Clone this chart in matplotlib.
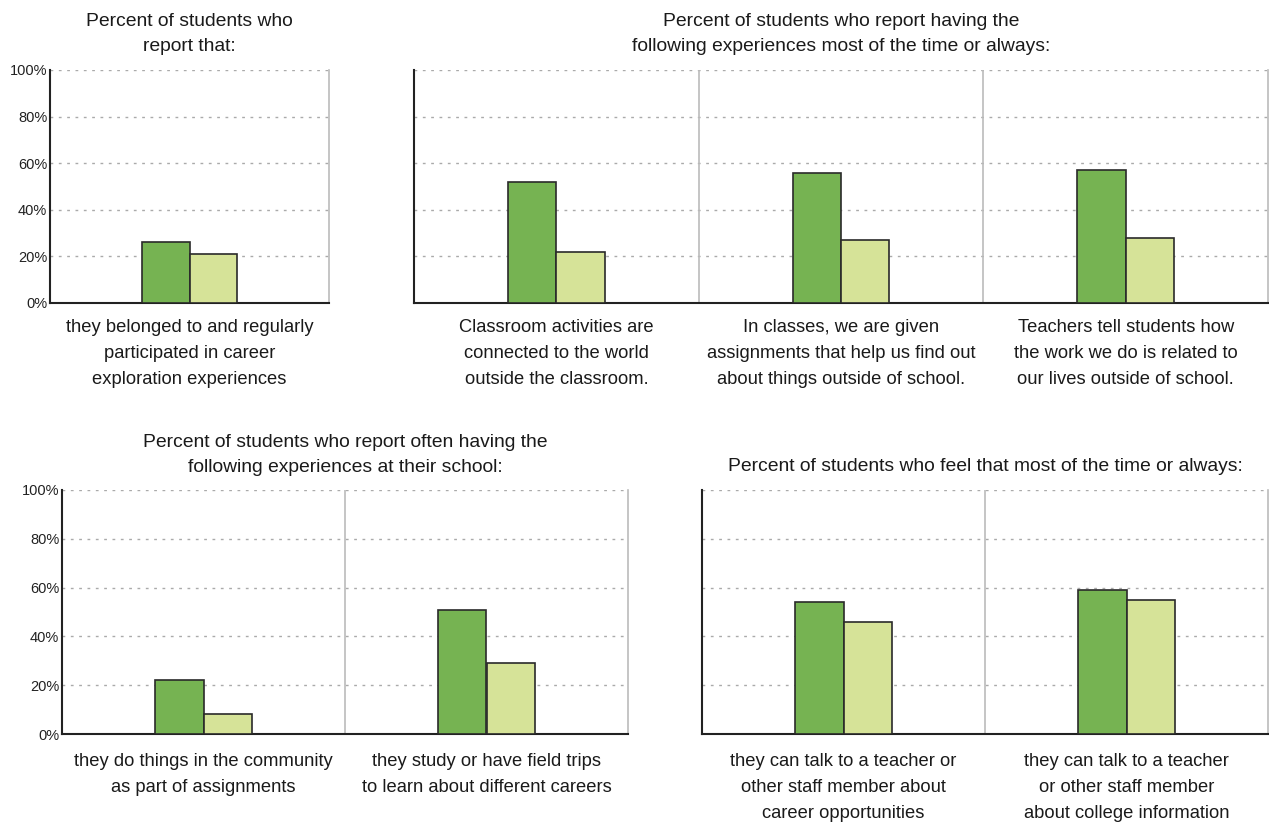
import matplotlib
matplotlib.use("Agg")
import matplotlib.pyplot as plt
from matplotlib.ticker import FuncFormatter

plt.rcParams['font.family'] = ['Liberation Sans', 'DejaVu Sans']

# panel data: green = school, light = comparison
tl_title = "Percent of students who\nreport that:"
tl_labels = ["they belonged to and regularly\nparticipated in career\nexploration experiences"]
tl_green = [26]
tl_light = [21]

tr_title = "Percent of students who report having the\nfollowing experiences most of the time or always:"
tr_labels = ["Classroom activities are\nconnected to the world\noutside the classroom.",
             "In classes, we are given\nassignments that help us find out\nabout things outside of school.",
             "Teachers tell students how\nthe work we do is related to\nour lives outside of school."]
tr_green = [52, 56, 57]
tr_light = [22, 27, 28]

bl_title = "Percent of students who report often having the\nfollowing experiences at their school:"
bl_labels = ["they do things in the community\nas part of assignments",
             "they study or have field trips\nto learn about different careers"]
bl_green = [22, 51]
bl_light = [8, 29]

br_title = "Percent of students who feel that most of the time or always:"
br_labels = ["they can talk to a teacher or\nother staff member about\ncareer opportunities",
             "they can talk to a teacher\nor other staff member\nabout college information"]
br_green = [54, 59]
br_light = [46, 55]

GREEN = "#76B352"
LIGHT = "#D6E398"
W, H = 1269, 825
FS = 13.2
TFS = 13.9

fig = plt.figure(figsize=(W / 100, H / 100), dpi=100)


def panel(x0, x1, ytop, ybot, title, labels, green, light, yticks, lpad, tpad):
    ax = fig.add_axes([x0 / W, 1 - ybot / H, (x1 - x0) / W, (ybot - ytop) / H])
    n = len(labels)
    pos = list(range(n))
    bw = 0.17
    ax.bar([p - bw / 2 for p in pos], green, bw, color=GREEN, edgecolor="#2a2a2a", linewidth=1.2, zorder=3)
    ax.bar([p + bw / 2 for p in pos], light, bw, color=LIGHT, edgecolor="#2a2a2a", linewidth=1.2, zorder=3)
    ax.set_xlim(-0.5, n - 0.5)
    ax.set_ylim(0, 100)
    ax.set_yticks([0, 20, 40, 60, 80, 100])
    ax.yaxis.grid(True, linestyle=(0, (2, 4)), color="#aaaaaa", linewidth=1)
    ax.set_axisbelow(True)
    for i in range(1, n):
        ax.axvline(i - 0.5, color="#bbbbbb", linewidth=1.2, zorder=2)
    ax.spines['top'].set_visible(False)
    ax.spines['right'].set_color("#bbbbbb")
    ax.spines['right'].set_linewidth(1.2)
    ax.spines['left'].set_color("#222222")
    ax.spines['bottom'].set_color("#222222")
    ax.spines['left'].set_linewidth(1.5)
    ax.spines['bottom'].set_linewidth(1.5)
    ax.set_xticks(pos)
    ax.set_xticklabels(labels, fontsize=FS, linespacing=1.68, va='top', color="#1a1a1a")
    ax.tick_params(axis='x', length=0, pad=lpad)
    ax.tick_params(axis='y', length=0, pad=2, labelsize=10.5, labelcolor="#222222")
    if yticks:
        ax.yaxis.set_major_formatter(FuncFormatter(lambda v, p: f"{int(v)}%"))
    else:
        ax.set_yticklabels([])
    ax.set_title(title, fontsize=TFS, linespacing=1.6, pad=tpad, color="#1a1a1a")
    return ax


panel(50, 329, 70, 303, tl_title, tl_labels, tl_green, tl_light, True, 11.5, 14)
panel(414, 1268, 70, 303, tr_title, tr_labels, tr_green, tr_light, False, 11.5, 14)
panel(62, 628, 490, 734, bl_title, bl_labels, bl_green, bl_light, True, 14, 13)
panel(702, 1268, 490, 734, br_title, br_labels, br_green, br_light, False, 14, 14)

fig.savefig("out.png", dpi=100)
